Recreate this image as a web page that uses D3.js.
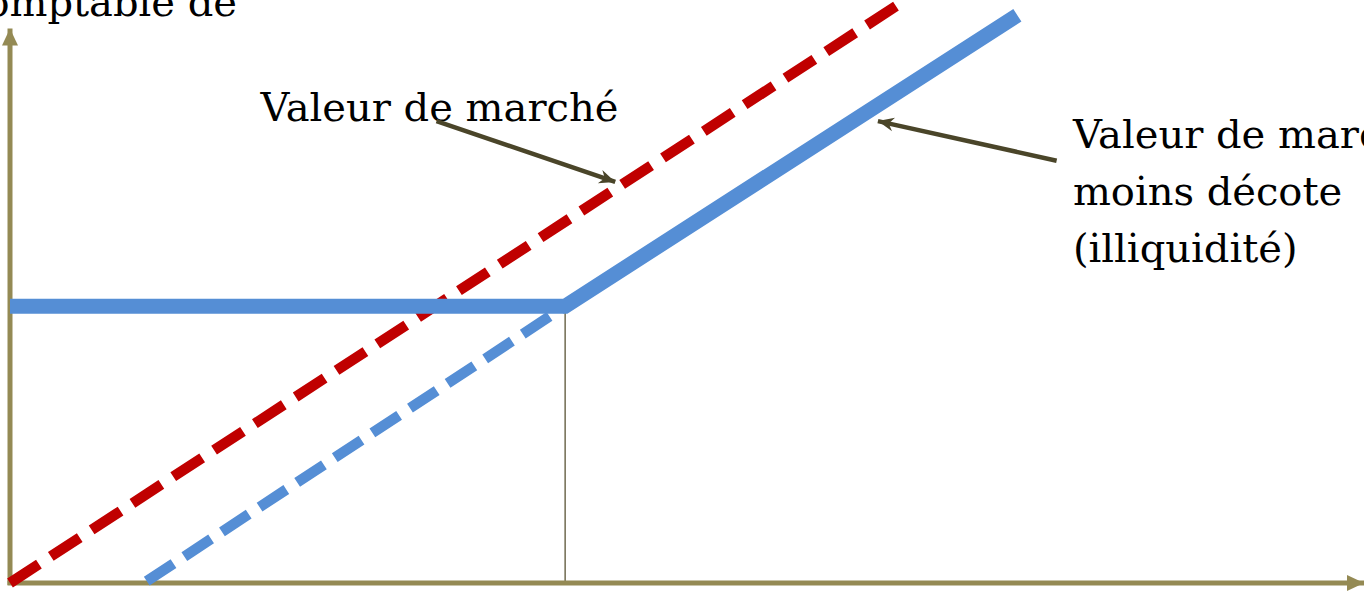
<!DOCTYPE html>
<html>
<head>
<meta charset="utf-8">
<script src="https://cdn.jsdelivr.net/npm/d3@7"></script>
<style>
  html, body { margin: 0; padding: 0; background: #fff; overflow: hidden; }
  svg text { font-family: "DejaVu Serif", serif; fill: #000; }
</style>
</head>
<body>
<div id="chart"></div>
<script>
// values (arbitrary units, market value on x)
const marketValue = [[0, 0], [65.5, 65.5]];
const bookValue = [[0, 31.4], [41, 31.4], [74.4, 64.4]];
const discounted = [[10.1, 0.2], [41, 31.4]];
const kinkX = 41;
const floorValue = 31.4;

const labelMarket = "Valeur de marché";
const labelDiscount = ["Valeur de marché", "moins décote", "(illiquidité)"];
const labelYAxis = "Valeur comptable de";

const width = 1364, height = 595;

const svg = d3.select("#chart")
  .append("svg")
    .attr("width", width)
    .attr("height", height);

const x = d3.scaleLinear().domain([0, 100]).range([10, 1364]);
const y = d3.scaleLinear().domain([0, 65]).range([583, 10]);

const line = d3.line().x(d => x(d[0])).y(d => y(d[1]));

const defs = svg.append("defs");
// filled arrow for axes
defs.append("marker")
    .attr("id", "axisArrow")
    .attr("markerUnits", "userSpaceOnUse")
    .attr("viewBox", "-18 -9 18 18")
    .attr("refX", 0).attr("refY", 0)
    .attr("markerWidth", 18).attr("markerHeight", 18)
    .attr("orient", "auto")
  .append("path")
    .attr("d", "M0,0 L-17,-8 L-17,8 Z")
    .attr("fill", "#948A54");
// stealth arrow for annotations
defs.append("marker")
    .attr("id", "noteArrow")
    .attr("markerUnits", "userSpaceOnUse")
    .attr("viewBox", "-18 -9 20 18")
    .attr("refX", 0).attr("refY", 0)
    .attr("markerWidth", 20).attr("markerHeight", 18)
    .attr("orient", "auto")
  .append("path")
    .attr("d", "M0,0 L-16,-7 L-11,0 L-16,7 Z")
    .attr("fill", "#4A4529");

// thin guide at the kink
svg.append("line")
    .attr("x1", x(kinkX)).attr("x2", x(kinkX))
    .attr("y1", y(0)).attr("y2", y(floorValue))
    .attr("stroke", "#6f6a50")
    .attr("stroke-width", 1.5);

// axes
svg.append("line")
    .attr("x1", x(0)).attr("y1", y(0) + 2)
    .attr("x2", x(0)).attr("y2", y(62.9))
    .attr("stroke", "#948A54").attr("stroke-width", 5)
    .attr("marker-end", "url(#axisArrow)");
svg.append("line")
    .attr("x1", x(0) - 2.5).attr("y1", y(0))
    .attr("x2", x(100)).attr("y2", y(0))
    .attr("stroke", "#948A54").attr("stroke-width", 5)
    .attr("marker-end", "url(#axisArrow)");

// series
svg.append("path")
    .datum(discounted)
    .attr("d", line)
    .attr("fill", "none")
    .attr("stroke", "#558ED5")
    .attr("stroke-width", 10.5)
    .attr("stroke-dasharray", "32,13");

svg.append("path")
    .datum(marketValue)
    .attr("d", line)
    .attr("fill", "none")
    .attr("stroke", "#C00000")
    .attr("stroke-width", 10.5)
    .attr("stroke-dasharray", "34.5,14.2");

svg.append("path")
    .datum(bookValue)
    .attr("d", line)
    .attr("fill", "none")
    .attr("stroke", "#558ED5")
    .attr("stroke-width", 15)
    .attr("stroke-linejoin", "miter");

// labels
svg.append("text")
    .attr("x", 237).attr("y", 16)
    .attr("text-anchor", "end")
    .style("font-size", "40px")
    .text(labelYAxis);

svg.append("text")
    .attr("x", x(18.5)).attr("y", y(52.9) + 4)
    .style("font-size", "40px")
    .text(labelMarket);

svg.append("text")
    .attr("x", x(78.5)).attr("y", 148)
    .style("font-size", "40px")
    .selectAll("tspan")
    .data(labelDiscount)
    .join("tspan")
      .attr("x", x(78.5))
      .attr("dy", (d, i) => i === 0 ? 0 : 57)
      .text(d => d);

// annotation arrows
svg.append("line")
    .attr("x1", x(31.5)).attr("y1", y(52.4))
    .attr("x2", x(44.7)).attr("y2", y(45.5))
    .attr("stroke", "#4A4529").attr("stroke-width", 4.5)
    .attr("marker-end", "url(#noteArrow)");
svg.append("line")
    .attr("x1", x(77.3)).attr("y1", y(47.9))
    .attr("x2", x(64.1)).attr("y2", y(52.4))
    .attr("stroke", "#4A4529").attr("stroke-width", 4.5)
    .attr("marker-end", "url(#noteArrow)");
</script>
</body>
</html>
